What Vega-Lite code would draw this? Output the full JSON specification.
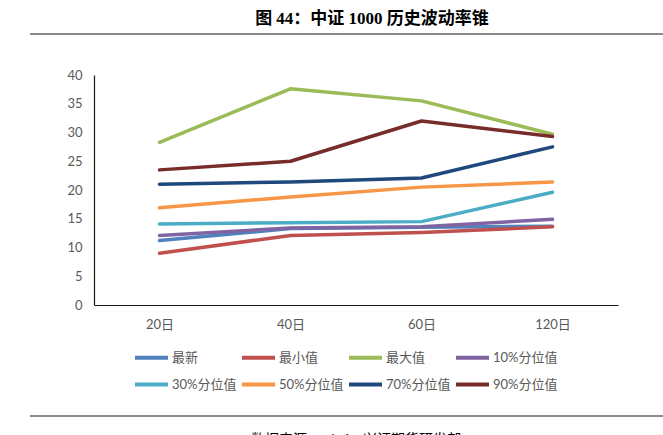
{
  "$schema": "https://vega.github.io/schema/vega-lite/v6.json",
  "width": 524,
  "height": 230,
  "autosize": {"type": "none"},
  "padding": {"left": 94, "top": 75, "right": 45, "bottom": 130},
  "background": "white",
  "title": {
    "text": "图 44：中证 1000 历史波动率锥",
    "font": "Liberation Serif, Noto Sans CJK SC",
    "fontSize": 17,
    "fontWeight": "bold",
    "color": "#000000",
    "anchor": "middle",
    "frame": "group",
    "dx": 16,
    "offset": 5
  },
  "config": {
    "view": {"stroke": null},
    "axis": {"labelFont": "Lato, Noto Sans CJK SC", "labelColor": "#595959", "labelFontSize": 13, "grid": false, "ticks": false, "domainColor": "#1a1a1a", "domainWidth": 1.2, "title": null}
  },
  "layer": [
    {
      "data": {"values": [
        {"period": "20日", "series": "最新", "value": 11.2},
        {"period": "40日", "series": "最新", "value": 13.3},
        {"period": "60日", "series": "最新", "value": 13.5},
        {"period": "120日", "series": "最新", "value": 13.7},
        {"period": "20日", "series": "最小值", "value": 9.0},
        {"period": "40日", "series": "最小值", "value": 12.1},
        {"period": "60日", "series": "最小值", "value": 12.6},
        {"period": "120日", "series": "最小值", "value": 13.6},
        {"period": "20日", "series": "最大值", "value": 28.3},
        {"period": "40日", "series": "最大值", "value": 37.6},
        {"period": "60日", "series": "最大值", "value": 35.5},
        {"period": "120日", "series": "最大值", "value": 29.7},
        {"period": "20日", "series": "10%分位值", "value": 12.1},
        {"period": "40日", "series": "10%分位值", "value": 13.4},
        {"period": "60日", "series": "10%分位值", "value": 13.6},
        {"period": "120日", "series": "10%分位值", "value": 14.9},
        {"period": "20日", "series": "30%分位值", "value": 14.1},
        {"period": "40日", "series": "30%分位值", "value": 14.3},
        {"period": "60日", "series": "30%分位值", "value": 14.5},
        {"period": "120日", "series": "30%分位值", "value": 19.6},
        {"period": "20日", "series": "50%分位值", "value": 16.9},
        {"period": "40日", "series": "50%分位值", "value": 18.8},
        {"period": "60日", "series": "50%分位值", "value": 20.5},
        {"period": "120日", "series": "50%分位值", "value": 21.4},
        {"period": "20日", "series": "70%分位值", "value": 21.0},
        {"period": "40日", "series": "70%分位值", "value": 21.4},
        {"period": "60日", "series": "70%分位值", "value": 22.1},
        {"period": "120日", "series": "70%分位值", "value": 27.5},
        {"period": "20日", "series": "90%分位值", "value": 23.5},
        {"period": "40日", "series": "90%分位值", "value": 25.0},
        {"period": "60日", "series": "90%分位值", "value": 32.0},
        {"period": "120日", "series": "90%分位值", "value": 29.3}
      ]},
      "mark": {"type": "line", "strokeWidth": 3.5, "strokeCap": "round", "strokeJoin": "round"},
      "encoding": {
        "x": {"field": "period", "type": "ordinal", "sort": ["20日", "40日", "60日", "120日"],
              "scale": {"type": "point", "padding": 0.5},
              "axis": {"labelAngle": 0, "labelPadding": 13}},
        "y": {"field": "value", "type": "quantitative",
              "scale": {"domain": [0, 40], "nice": false},
              "axis": {"values": [0, 5, 10, 15, 20, 25, 30, 35, 40], "labelPadding": 12}},
        "color": {"field": "series", "type": "nominal",
                  "sort": ["最新", "最小值", "最大值", "10%分位值", "30%分位值", "50%分位值", "70%分位值", "90%分位值"],
                  "scale": {"domain": ["最新", "最小值", "最大值", "10%分位值", "30%分位值", "50%分位值", "70%分位值", "90%分位值"],
                            "range": ["#4F81BD", "#C0504D", "#9BBB59", "#8064A2", "#4BACC6", "#F79646", "#1F497D", "#772C2A"]},
                  "legend": {"title": null, "orient": "none", "legendX": 39, "legendY": 264, "columns": 4, "direction": "horizontal",
                             "symbolType": "stroke", "symbolSize": 1089, "symbolStrokeWidth": 4,
                             "labelFont": "Lato, Noto Sans CJK SC", "labelFontSize": 13, "labelColor": "#595959",
                             "labelOffset": 2, "columnPadding": -3, "rowPadding": 0, "labelLimit": 200}}
      }
    },
    {
      "data": {"values": [{"pos": "top"}]},
      "mark": {"type": "rule", "color": "#666666", "strokeWidth": 1.5},
      "encoding": {"x": {"value": -64}, "x2": {"value": 569}, "y": {"value": -41}}
    },
    {
      "data": {"values": [{"pos": "bottom"}]},
      "mark": {"type": "rule", "color": "#666666", "strokeWidth": 1.5},
      "encoding": {"x": {"value": -64}, "x2": {"value": 569}, "y": {"value": 341}}
    },
    {
      "data": {"values": [{"source": "数据来源：wind，兴证期货研发部"}]},
      "mark": {"type": "text", "font": "Liberation Serif, Noto Sans CJK SC", "fontSize": 14, "color": "#000000", "baseline": "top", "align": "center"},
      "encoding": {"text": {"field": "source"}, "x": {"value": 262}, "y": {"value": 358}}
    }
  ]
}
